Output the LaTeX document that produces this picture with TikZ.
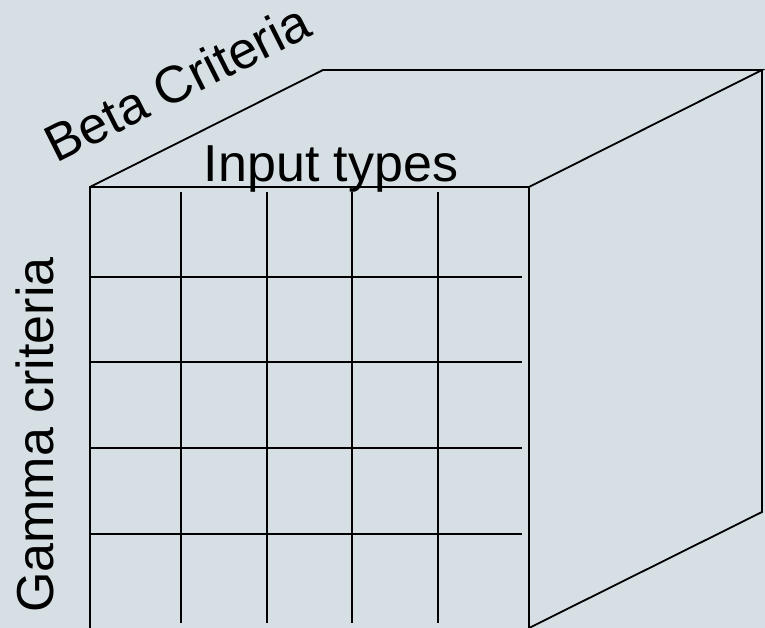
\documentclass[tikz,border=0pt]{standalone}
\usepackage{fontspec}
\setmainfont{Liberation Sans}
\usetikzlibrary{
  calc,
  positioning
}
\definecolor{slide}{RGB}{214,224,228}
\tikzset{
  x = 1pt,
  y = 1pt,
  edge/.style = {line width=1.8pt},
  caption/.style = {inner sep=0pt, font=\fontsize{52}{60}\selectfont},
}

\begin{document}
\begin{tikzpicture}
  \fill[slide] (0,0) rectangle (765,628);
  \useasboundingbox (0,0) rectangle (765,628);
  % corners of the box
  \coordinate (ftl) at (90,441);
  \coordinate (btl) at (323,558);
  \coordinate (btr) at (762,558);
  \coordinate (ftr) at (529,441);
  \coordinate (bbr) at (762,116);
  \coordinate (fbr) at (529,0);
  \coordinate (fbl) at (90,0);
  \draw[edge] (fbl) -- (ftl) -- (ftr) -- (fbr);
  \draw[edge] (ftl) -- (btl) -- (btr) -- (ftr);
  \draw[edge] (btr) -- (bbr) -- (fbr);
  % cells
  \foreach \x in {181,267,352,438}
    \draw[edge] (\x,436) -- (\x,5);
  \foreach \y in {351,266,180,94}
    \draw[edge] (90,\y) -- (522,\y);
  % labels
  \node[caption, anchor=base] (input) at (331,446) {Input types};
  \node[caption, anchor=base, rotate=90] (gamma) at (53,193) {Gamma criteria};
  \node[caption, anchor=base, rotate=26.7] (beta)
      at ($(ftl)!0.47!(btl)+(-14,33)$) {Beta Criteria};
\end{tikzpicture}
\end{document}
